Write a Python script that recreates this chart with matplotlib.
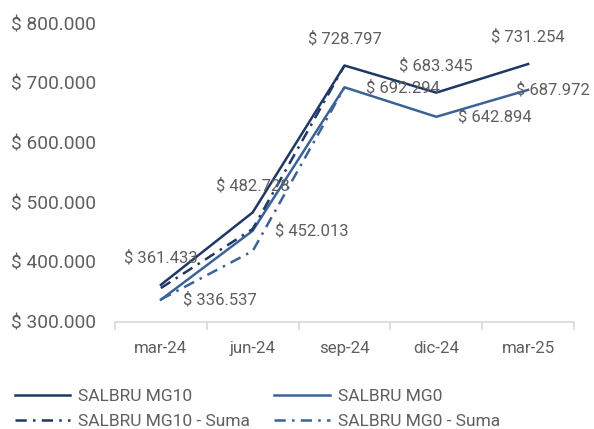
import matplotlib
matplotlib.use("Agg")
import matplotlib.pyplot as plt
import numpy as np

categories = ["mar-24", "jun-24", "sep-24", "dic-24", "mar-25"]
mg10 = [361433, 482728, 728797, 683345, 731254]
mg0 = [336537, 452013, 692294, 642894, 687972]
mg10_suma = [356000, 455000, 728797, np.nan, np.nan]
mg0_suma = [337000, 418000, 692294, np.nan, np.nan]
yticks = [300000, 400000, 500000, 600000, 700000, 800000]

def fmt(v):
    return "$ " + f"{int(v):,}".replace(",", ".")

plt.rcParams['font.family'] = ['Roboto', 'DejaVu Sans']
DARK = "#203864"
BLUE = "#3B6398"
GRAY = "#5F5F5F"

fig = plt.figure(figsize=(5.94, 4.29), dpi=100)
ax = fig.add_axes([115/594, 1-321.5/429, (574-115)/594, (321.5-23)/429])
x = np.arange(len(categories))

h1, = ax.plot(x, mg10, color=DARK, lw=1.8, label="SALBRU MG10", zorder=3)
h2, = ax.plot(x, mg0, color=BLUE, lw=1.8, label="SALBRU MG0", zorder=3)
h3, = ax.plot(x, mg10_suma, color=DARK, lw=1.8, ls=(0, (4.5, 2.5, 1, 2.5)), label="SALBRU MG10 - Suma", zorder=4)
h4, = ax.plot(x, mg0_suma, color=BLUE, lw=1.8, ls=(0, (4.5, 2.5, 1, 2.5)), label="SALBRU MG0 - Suma", zorder=4)

ax.set_xlim(-0.5, len(categories) - 0.5)
ax.set_ylim(300000, 800000)
ax.set_yticks(yticks)
ax.set_yticklabels([fmt(v) for v in yticks])
ax.set_xticks(x)
ax.set_xticklabels(categories)
ax.set_xticks(np.arange(-0.5, len(categories)), minor=True)

for s in ["top", "right", "left"]:
    ax.spines[s].set_visible(False)
ax.spines["bottom"].set_color("#D9D9D9")
ax.spines["bottom"].set_linewidth(1.2)
ax.tick_params(axis="y", length=0, pad=13.7, labelsize=13.8, labelcolor=GRAY)
ax.tick_params(axis="x", which="major", length=0, pad=14, labelsize=12.2, labelcolor=GRAY)
ax.tick_params(axis="x", which="minor", length=6, width=1.2, color="#D9D9D9")

for xi, v in zip(x, mg10):
    ax.annotate(fmt(v), (xi, v), xytext=(0, 27), textcoords="offset pixels",
                ha="center", va="center", fontsize=12, color=GRAY, zorder=5)
offs = [22, 22, 22, 22, -12]
for xi, v, o in zip(x, mg0, offs):
    ax.annotate(fmt(v), (xi, v), xytext=(o, 0), textcoords="offset pixels",
                ha="left", va="center", fontsize=12, color=GRAY, zorder=5)

leg = fig.legend(handles=[h1, h3, h2, h4], loc="upper left", bbox_to_anchor=(-1/594, 1-373/429),
                 ncol=2, frameon=False, fontsize=12.5, labelcolor=GRAY, handlelength=3.2,
                 handletextpad=0.45, columnspacing=1.4, labelspacing=0.6)

fig.savefig("out.png", dpi=100)
